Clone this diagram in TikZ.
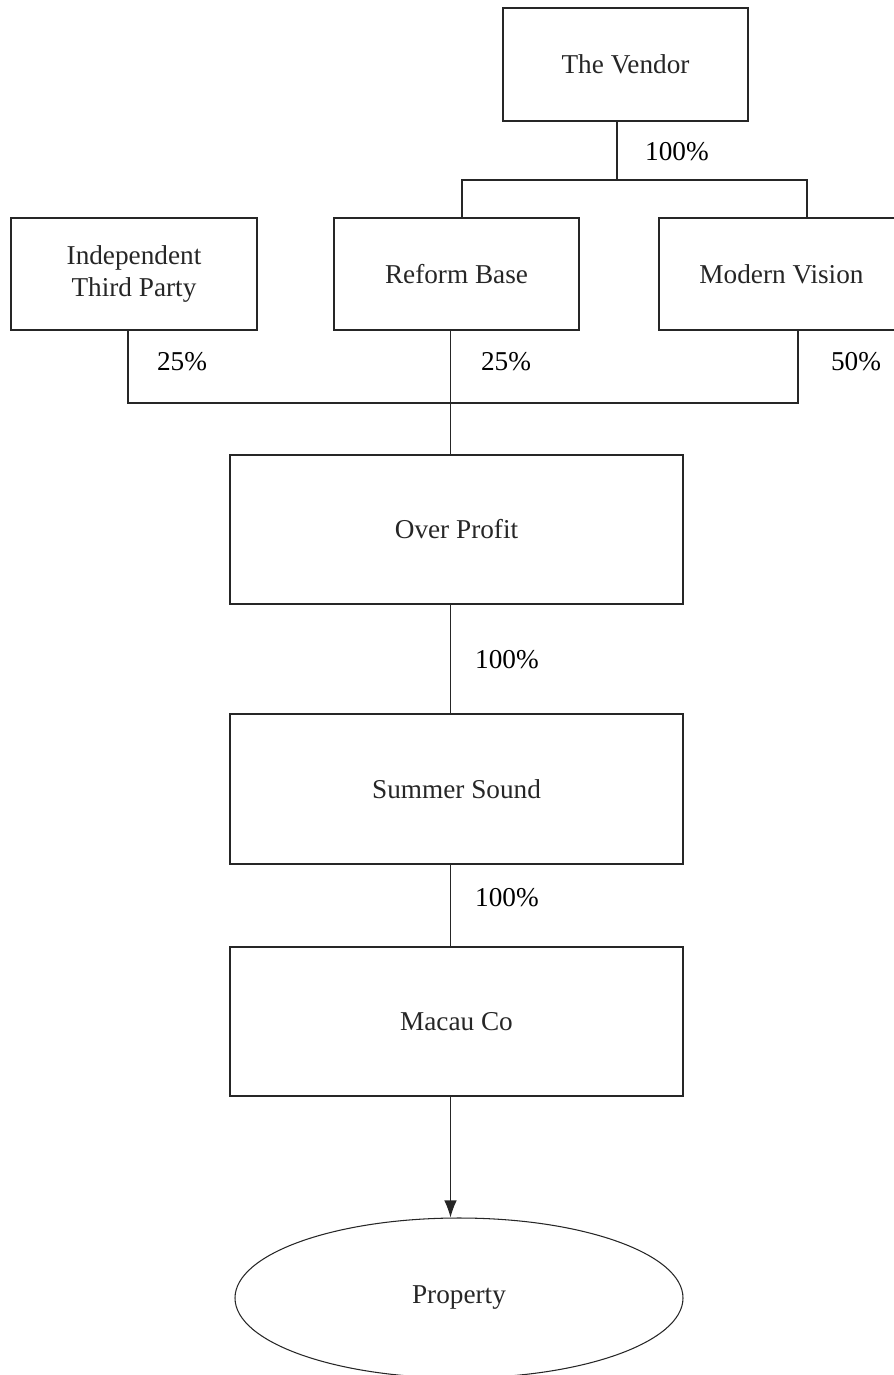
\documentclass[tikz,border=0pt]{standalone}
\usepackage{fontspec}
\setmainfont{Liberation Serif}
\usepackage{tikz}
\usetikzlibrary{arrows.meta,calc,shapes.geometric,positioning}

\begin{document}
\begin{tikzpicture}[line width=0.6pt, every node/.style={font=\fontsize{15.5}{18.6}\selectfont},
  firm/.style={draw, minimum width=4.9cm, minimum height=2.24cm, align=center, inner sep=0pt},
  bigfirm/.style={firm, minimum width=9.06cm, minimum height=2.98cm}]
\useasboundingbox (0,0) rectangle (17.86,-27.5);
\draw[color=black!85]
     (12.51,-1.29) node[firm, minimum height=2.26cm] (Vendor) {The Vendor}
     (2.68,-5.48) node[firm, minimum width=4.92cm] (Third) {Independent\\Third Party}
     (9.13,-5.48) node[firm] (Reform) {Reform Base}
     (15.63,-5.48) node[firm] (Modern) {Modern Vision}
     (9.13,-10.59) node[bigfirm] (Over) {Over Profit}
     (9.13,-15.78) node[bigfirm, minimum height=3cm] (Summer) {Summer Sound}
     (9.13,-20.43) node[bigfirm] (Macau) {Macau Co}
     (9.18,-25.96) node[ellipse, draw, inner sep=0pt, minimum width=8.96cm, minimum height=3.2cm] (Property) {Property};
% shareholding lines
\coordinate (split) at (12.34,-3.6);
\coordinate (join) at (9.01,-8.06);
\draw[color=black!85]
     ($(Vendor.south)+(-0.17,0)$) -- (split)
     ($(Reform.north)+(0.11,0)$) |- (split) -| ($(Modern.north)+(0.51,0)$)
     ($(Third.south)+(-0.12,0)$) |- (join) -| ($(Modern.south)+(0.33,0)$)
     (join |- Reform.south) -- (join |- Over.north)
     (join |- Over.south) -- (join |- Summer.north)
     (join |- Summer.south) -- (join |- Macau.north);
\draw[color=black!85, -{Latex[length=3.4mm,width=2.5mm]}] (join |- Macau.south) -- (join |- Property.north);
% percentages
\node (pVendor) at (13.54,-3.04) {100\%};
\node (pThird) at (3.64,-7.24) {25\%};
\node (pReform) at (10.12,-7.24) {25\%};
\node (pModern) at (17.12,-7.24) {50\%};
\node (pOver) at (10.14,-13.2) {100\%};
\node (pSummer) at (10.14,-17.96) {100\%};
\end{tikzpicture}
\end{document}
